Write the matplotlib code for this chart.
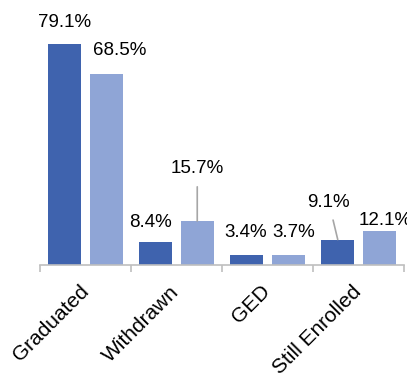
import matplotlib
matplotlib.use('Agg')
import matplotlib.pyplot as plt
import numpy as np

plt.rcParams['font.family'] = ['Liberation Sans', 'DejaVu Sans']

categories = ['Graduated', 'Withdrawn', 'GED', 'Still Enrolled']
series_a = [79.1, 8.4, 3.4, 9.1]
series_b = [68.5, 15.7, 3.7, 12.1]

dark = '#3F63AE'
light = '#8FA5D6'
grid_gray = '#BFBFBF'
leader_gray = '#A6A6A6'

fig = plt.figure(figsize=(4.07, 3.73), dpi=100)
ax = fig.add_axes([40 / 407, 108 / 373, 364 / 407, 265 / 373])

x = np.arange(len(categories))
w = 0.36
off = 0.228
bars_a = ax.bar(x - off, series_a, w, color=dark)
bars_b = ax.bar(x + off, series_b, w, color=light)

ax.set_xlim(-0.5, len(categories) - 0.5)
ax.set_ylim(0, 94.8)

# label offsets in pixels (dx, dy from bar top) and whether a leader line is drawn
label_a = [(0, 17, False), (-5, 15, False), (-1, 18, False), (-9, 33, True)]
label_b = [(13, 19, False), (0, 48, True), (5, 18, False), (6, 6, False)]

for bars, vals, offs in ((bars_a, series_a, label_a), (bars_b, series_b, label_b)):
    for b, v, (dx, dy, lead) in zip(bars, vals, offs):
        xy = (b.get_x() + b.get_width() / 2, v)
        kw = {}
        if lead:
            kw['arrowprops'] = dict(arrowstyle='-', color=leader_gray, lw=1.2,
                                    shrinkA=5, shrinkB=0)
        ax.annotate(f'{v}%', xy=xy, xytext=(dx, dy), textcoords='offset pixels',
                    ha='center', va='baseline', fontsize=13.5, color='#000000', **kw)

for s in ('top', 'left', 'right'):
    ax.spines[s].set_visible(False)
ax.spines['bottom'].set_color(grid_gray)
ax.spines['bottom'].set_linewidth(1.2)
ax.set_yticks([])

ax.set_xticks(np.arange(-0.5, len(categories), 1.0))
ax.set_xticklabels([])
ax.tick_params(axis='x', which='major', length=5, color=grid_gray, width=1.2)
ax.set_xticks(x, minor=True)
ax.set_xticklabels(categories, minor=True, rotation=45, ha='right', va='center',
                   rotation_mode='anchor', fontsize=15)
ax.tick_params(axis='x', which='minor', length=0, pad=17)

fig.savefig('out.png', dpi=100)
